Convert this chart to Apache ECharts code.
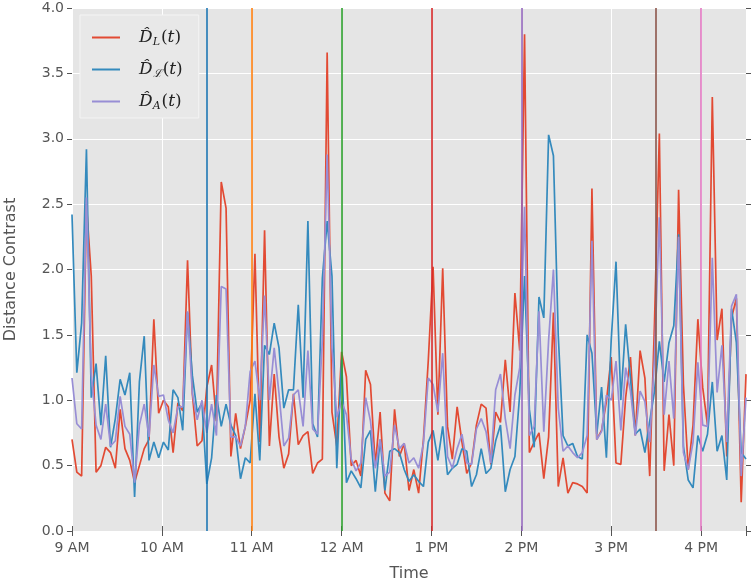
<!DOCTYPE html>
<html>
<head>
<meta charset="utf-8">
<title>Distance Contrast</title>
<script src="https://cdn.jsdelivr.net/npm/echarts@6/dist/echarts.min.js"></script>
<style>
  html, body { margin: 0; padding: 0; background: #fff; }
  #chart { width: 756px; height: 583px; }
</style>
</head>
<body>
<div id="chart"></div>
<script>
// samples evenly spaced from 9:00 to 16:30 (141 samples)
const START_HOUR = 9
const END_HOUR = 16.5

const distL = [
  0.70, 0.45, 0.42, 2.50, 1.95, 0.45, 0.50, 0.64, 0.60, 0.48,
  0.93, 0.63, 0.54, 0.37, 0.50, 0.63, 0.70, 1.62, 0.90, 1.00,
  0.95, 0.60, 0.98, 0.92, 2.07, 1.05, 0.65, 0.69, 1.10, 1.27,
  0.84, 2.67, 2.47, 0.57, 0.90, 0.63, 0.80, 1.00, 2.12, 0.68,
  2.30, 0.65, 1.20, 0.72, 0.48, 0.59, 1.05, 0.66, 0.73, 0.76,
  0.44, 0.52, 0.55, 3.66, 0.91, 0.65, 1.37, 1.18, 0.50, 0.54,
  0.42, 1.23, 1.12, 0.50, 0.91, 0.29, 0.23, 0.93, 0.57, 0.67,
  0.31, 0.47, 0.29, 0.70, 1.30, 2.02, 0.89, 2.01, 0.80, 0.55,
  0.95, 0.68, 0.44, 0.52, 0.81, 0.97, 0.94, 0.51, 0.91, 0.83,
  1.31, 0.91, 1.82, 1.38, 3.80, 0.60, 0.68, 0.75, 0.40, 0.72,
  1.67, 0.34, 0.56, 0.29, 0.37, 0.36, 0.34, 0.29, 2.62, 0.70,
  0.77, 0.99, 1.33, 0.52, 0.51, 1.02, 1.33, 0.73, 1.38, 1.17,
  0.42, 1.60, 3.04, 0.46, 0.89, 0.50, 2.61, 1.12, 0.47, 0.81,
  1.62, 1.10, 0.81, 3.32, 1.46, 1.70, 0.57, 1.63, 1.78, 0.22,
  1.20
]

const distC = [
  2.42, 1.21, 1.59, 2.92, 1.02, 1.28, 0.81, 1.34, 0.64, 0.86,
  1.16, 1.04, 1.21, 0.26, 1.14, 1.49, 0.54, 0.68, 0.56, 0.68,
  0.62, 1.08, 1.02, 0.77, 1.67, 1.19, 0.91, 0.98, 0.36, 0.56,
  1.04, 0.80, 0.97, 0.81, 0.73, 0.40, 0.56, 0.52, 1.05, 0.54,
  1.42, 1.35, 1.59, 1.40, 0.94, 1.08, 1.08, 1.73, 1.02, 2.37,
  0.82, 0.72, 1.93, 2.37, 1.95, 0.48, 1.31, 0.37, 0.46, 0.40,
  0.33, 0.70, 0.77, 0.30, 0.70, 0.31, 0.61, 0.63, 0.60, 0.47,
  0.38, 0.43, 0.38, 0.34, 0.68, 0.77, 0.54, 0.80, 0.43, 0.48,
  0.51, 0.63, 0.61, 0.34, 0.43, 0.63, 0.44, 0.48, 0.69, 0.81,
  0.30, 0.47, 0.57, 1.05, 1.95, 0.93, 0.64, 1.79, 1.63, 3.03,
  2.87, 1.50, 0.73, 0.65, 0.67, 0.57, 0.55, 1.50, 1.36, 0.74,
  1.10, 0.56, 1.46, 2.06, 1.00, 1.58, 1.17, 0.74, 0.78, 0.60,
  0.84, 1.07, 1.45, 1.14, 1.44, 1.57, 2.27, 0.65, 0.39, 0.33,
  0.73, 0.61, 0.74, 1.14, 0.61, 0.73, 0.39, 1.70, 1.44, 0.60,
  0.55
]

const distA = [
  1.17, 0.82, 0.78, 2.55, 1.20, 0.81, 0.70, 0.97, 0.65, 0.69,
  1.03, 0.80, 0.74, 0.37, 0.81, 0.97, 0.72, 1.27, 1.03, 1.04,
  0.85, 0.75, 0.95, 0.95, 1.68, 1.05, 0.85, 1.00, 0.75, 0.97,
  0.73, 1.87, 1.85, 0.72, 0.72, 0.65, 0.80, 1.22, 1.30, 1.00,
  1.80, 1.00, 1.40, 1.05, 0.65, 0.71, 1.04, 1.08, 0.80, 1.38,
  0.78, 0.74, 1.46, 2.88, 1.40, 0.87, 0.99, 0.89, 0.55, 0.46,
  0.52, 1.02, 0.84, 0.48, 0.70, 0.42, 0.45, 0.81, 0.63, 0.67,
  0.52, 0.56, 0.48, 0.67, 1.17, 1.12, 0.91, 1.36, 0.57, 0.48,
  0.63, 0.74, 0.52, 0.51, 0.78, 0.86, 0.76, 0.52, 1.08, 1.20,
  0.86, 0.63, 1.04, 1.25, 2.48, 0.73, 0.80, 1.68, 0.76, 1.46,
  2.00, 0.94, 0.61, 0.65, 0.60, 0.56, 0.60, 0.73, 2.22, 0.70,
  0.76, 1.04, 1.00, 1.30, 0.77, 1.25, 1.07, 0.73, 1.07, 0.99,
  0.68, 1.33, 2.40, 0.89, 1.30, 0.86, 2.25, 0.60, 0.47, 0.68,
  1.29, 0.81, 0.80, 2.09, 1.06, 1.42, 0.68, 1.72, 1.81, 0.42,
  1.02
]

// event markers (hour of day) and their colours
const eventHours = [10.5, 11, 12, 13, 14, 15.5, 16]
const eventColors = ['#1f77b4', '#ff7f0e', '#2ca02c', '#d62728', '#9467bd', '#8c564b', '#e377c2']

const hourLabels = ['9 AM', '10 AM', '11 AM', '12 AM', '1 PM', '2 PM', '3 PM', '4 PM']

const seriesNames = ['DL', 'DC', 'DA']
const seriesColors = ['#E24A33', '#348ABD', '#988ED5']
const legendText = {
  DL: '{d|D\u0302}{s|L}{p|(}{d|t}{p|)}',
  DC: '{d|D\u0302}{s|\u2112}{p|(}{d|t}{p|)}',
  DA: '{d|D\u0302}{s|A}{p|(}{d|t}{p|)}'
}

const step = (END_HOUR - START_HOUR) / (distL.length - 1)
const times = distL.map((_, i) => START_HOUR + i * step)
const toPairs = (vals) => vals.map((v, i) => [times[i], v])

const chart = echarts.init(document.getElementById('chart'), null, { renderer: 'canvas' })

const tickColor = '#555555'
const labelStyle = { color: '#555555', fontSize: 14, fontFamily: 'DejaVu Sans' }

const option = {
  animation: false,
  grid: {
    left: 72, top: 8, width: 674, height: 523,
    outerBoundsMode: 'none',
    containLabel: false,
    show: true, backgroundColor: '#E5E5E5', borderWidth: 0
  },
  legend: {
    data: seriesNames,
    orient: 'vertical',
    left: 80, top: 15,
    icon: 'rect',
    itemWidth: 28, itemHeight: 2,
    itemGap: 13,
    padding: [14, 16, 6, 12],
    backgroundColor: '#E8E8E8',
    borderColor: '#F4F4F4',
    borderWidth: 1,
    formatter: (name) => legendText[name],
    textStyle: {
      padding: [0, 0, 0, 14],
      rich: {
        d: { fontFamily: 'DejaVu Serif', fontStyle: 'italic', fontSize: 17, color: '#222' },
        p: { fontFamily: 'DejaVu Serif', fontSize: 17, color: '#222' },
        s: { fontFamily: 'DejaVu Serif', fontStyle: 'italic', fontSize: 11, color: '#222', padding: [10, 1, 0, 0] }
      }
    }
  },
  xAxis: [
    {
      type: 'value', min: START_HOUR, max: END_HOUR, interval: 1,
      name: 'Time', nameLocation: 'middle', nameGap: 35,
      nameTextStyle: { color: '#555555', fontSize: 16, fontFamily: 'DejaVu Sans' },
      axisLine: { show: false },
      axisTick: { show: true, inside: false, length: 5, lineStyle: { color: tickColor } },
      axisLabel: {
        ...labelStyle, margin: 10,
        formatter: (v) => Number.isInteger(v) ? hourLabels[v - START_HOUR] : ''
      },
      splitLine: { show: true, lineStyle: { color: '#FFFFFF', width: 1 } }
    },
    {
      type: 'value', position: 'top', min: START_HOUR, max: END_HOUR, interval: 1,
      axisLine: { show: false },
      axisTick: { show: true, length: 5, lineStyle: { color: tickColor } },
      axisLabel: { show: false },
      splitLine: { show: false }
    }
  ],
  yAxis: [
    {
      type: 'value', min: 0, max: 4, interval: 0.5,
      name: 'Distance Contrast', nameLocation: 'middle', nameGap: 53,
      nameTextStyle: { color: '#555555', fontSize: 16, fontFamily: 'DejaVu Sans' },
      axisLine: { show: false },
      axisTick: { show: true, length: 5, lineStyle: { color: tickColor } },
      axisLabel: { ...labelStyle, margin: 8, formatter: (v) => v.toFixed(1) },
      splitLine: { show: true, lineStyle: { color: '#FFFFFF', width: 1 } }
    },
    {
      type: 'value', position: 'right', min: 0, max: 4, interval: 0.5,
      axisLine: { show: false },
      axisTick: { show: true, length: 5, lineStyle: { color: tickColor } },
      axisLabel: { show: false },
      splitLine: { show: false }
    }
  ],
  series: [
    ...[distL, distC, distA].map((vals, k) => ({
      name: seriesNames[k],
      type: 'line',
      data: toPairs(vals),
      showSymbol: false,
      symbol: 'none',
      color: seriesColors[k],
      lineStyle: { width: 1.7, color: seriesColors[k] },
      z: 2 + k
    })),
    {
      // vertical event markers
      name: 'events',
      type: 'line',
      data: [],
      silent: true,
      z: 10,
      markLine: {
        silent: true,
        symbol: 'none',
        label: { show: false },
        animation: false,
        data: eventHours.map((h, i) => ({
          xAxis: h,
          lineStyle: { color: eventColors[i], width: 1.6, type: 'solid' }
        }))
      }
    }
  ]
}

chart.setOption(option)
</script>
</body>
</html>
